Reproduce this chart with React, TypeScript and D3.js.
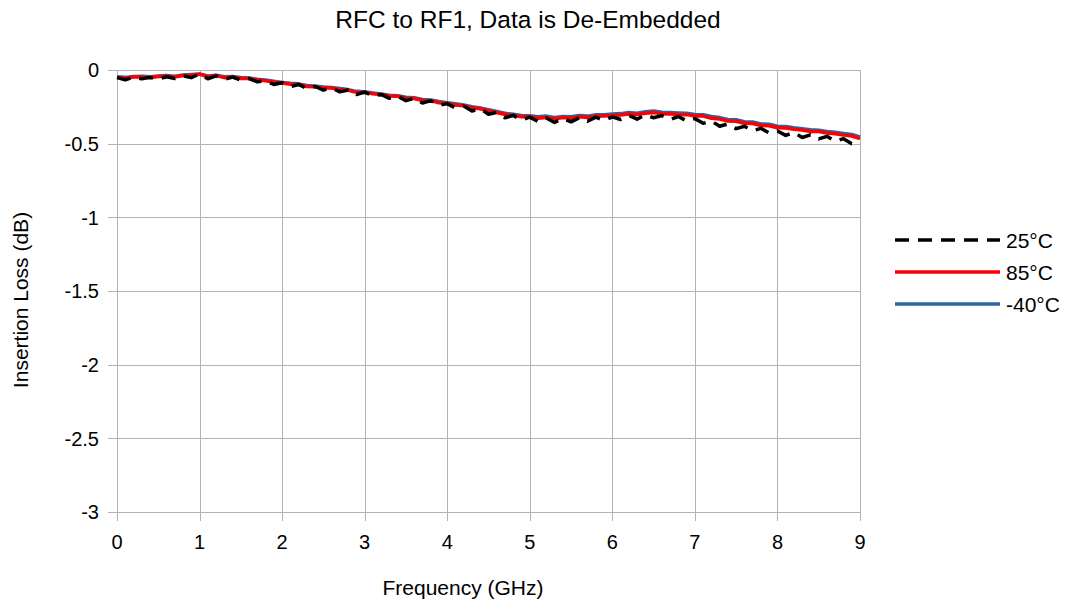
import React from "react";
import * as d3 from "d3";

const freqs: number[] = Array.from({ length: 91 }, (_, i) => +(i * 0.1).toFixed(1));

const loss85: number[] = [
  -0.050, -0.056, -0.048, -0.047, -0.052, -0.044, -0.042, -0.047, -0.038, -0.036,
  -0.028, -0.046, -0.038, -0.052, -0.048, -0.057, -0.058, -0.067, -0.073, -0.083,
  -0.088, -0.097, -0.098, -0.112, -0.113, -0.122, -0.123, -0.132, -0.138, -0.152,
  -0.153, -0.162, -0.168, -0.177, -0.178, -0.192, -0.193, -0.207, -0.208, -0.222,
  -0.228, -0.237, -0.243, -0.257, -0.263, -0.277, -0.288, -0.302, -0.308, -0.317,
  -0.318, -0.327, -0.322, -0.332, -0.323, -0.327, -0.318, -0.322, -0.313, -0.312,
  -0.308, -0.306, -0.298, -0.302, -0.293, -0.288, -0.297, -0.298, -0.302, -0.303,
  -0.312, -0.313, -0.327, -0.333, -0.347, -0.348, -0.362, -0.363, -0.377, -0.378,
  -0.392, -0.393, -0.402, -0.408, -0.417, -0.418, -0.427, -0.433, -0.442, -0.448, -0.466,
];

const lossM40: number[] = [
  -0.045, -0.050, -0.044, -0.043, -0.046, -0.040, -0.037, -0.042, -0.034, -0.031,
  -0.027, -0.040, -0.035, -0.046, -0.044, -0.051, -0.054, -0.062, -0.068, -0.077,
  -0.084, -0.090, -0.094, -0.105, -0.108, -0.116, -0.119, -0.126, -0.133, -0.145,
  -0.148, -0.156, -0.163, -0.171, -0.174, -0.185, -0.188, -0.200, -0.203, -0.214,
  -0.222, -0.229, -0.237, -0.249, -0.257, -0.269, -0.281, -0.294, -0.301, -0.308,
  -0.311, -0.318, -0.313, -0.322, -0.315, -0.318, -0.309, -0.313, -0.304, -0.303,
  -0.299, -0.296, -0.288, -0.293, -0.283, -0.278, -0.287, -0.289, -0.292, -0.294,
  -0.302, -0.304, -0.316, -0.323, -0.336, -0.338, -0.351, -0.353, -0.366, -0.368,
  -0.381, -0.383, -0.392, -0.398, -0.406, -0.409, -0.417, -0.423, -0.431, -0.438, -0.455,
];

const loss25: number[] = [
  -0.052, -0.066, -0.048, -0.060, -0.050, -0.062, -0.046, -0.058, -0.040, -0.052,
  -0.026, -0.060, -0.040, -0.064, -0.048, -0.070, -0.058, -0.080, -0.074, -0.098,
  -0.086, -0.112, -0.098, -0.126, -0.112, -0.136, -0.122, -0.148, -0.136, -0.166,
  -0.150, -0.176, -0.166, -0.192, -0.178, -0.208, -0.192, -0.224, -0.208, -0.240,
  -0.228, -0.258, -0.244, -0.278, -0.262, -0.300, -0.288, -0.324, -0.308, -0.340,
  -0.320, -0.350, -0.326, -0.356, -0.328, -0.352, -0.324, -0.348, -0.320, -0.342,
  -0.318, -0.336, -0.308, -0.334, -0.304, -0.324, -0.310, -0.336, -0.316, -0.346,
  -0.330, -0.362, -0.346, -0.382, -0.366, -0.398, -0.382, -0.412, -0.396, -0.428,
  -0.414, -0.444, -0.424, -0.458, -0.440, -0.468, -0.450, -0.484, -0.466, -0.500, -0.508,
];

const xTicks: number[] = [0, 1, 2, 3, 4, 5, 6, 7, 8, 9];
const yTicks: number[] = [0, -0.5, -1, -1.5, -2, -2.5, -3];
const yTickLabels: string[] = ["0", "-0.5", "-1", "-1.5", "-2", "-2.5", "-3"];

const seriesNames: string[] = ["25°C", "85°C", "-40°C"];
const seriesColors: string[] = ["#000000", "#ff0000", "#2e64a5"];
const seriesDash: string[] = ["14,9", "", ""];

const title = "RFC to RF1, Data is De-Embedded";
const xTitle = "Frequency (GHz)";
const yTitle = "Insertion Loss (dB)";

export default function App() {
  const W = 1070;
  const H = 604;
  const left = 117;
  const right = 860;
  const top = 70;
  const bottom = 512;
  const x = d3.scaleLinear().domain([0, 9]).range([left, right]);
  const y = d3.scaleLinear().domain([0, -3]).range([top, bottom]);
  const font = "'Liberation Sans', Arial, sans-serif";

  const series = [loss25, loss85, lossM40];
  const drawOrder = [2, 1, 0];
  const line = (vals: number[]) =>
    d3
      .line<number>()
      .x((_, i) => x(freqs[i]))
      .y((v) => y(v))(vals) || "";

  const grid = "#b3b3b3";

  return (
    <svg
      width={W}
      height={H}
      style={{ position: "absolute", left: 0, top: 0, background: "#fff" }}
      fontFamily={font}
    >
      <rect x={0} y={0} width={W} height={H} fill="#fff" />
      {yTicks.map((t) => (
        <line
          key={"gy" + t}
          x1={left - 9}
          x2={right}
          y1={Math.round(y(t)) + 0.5}
          y2={Math.round(y(t)) + 0.5}
          stroke={grid}
          strokeWidth={1}
        />
      ))}
      {xTicks.map((t) => (
        <line
          key={"gx" + t}
          x1={Math.round(x(t)) + 0.5}
          x2={Math.round(x(t)) + 0.5}
          y1={top}
          y2={bottom + 9}
          stroke={grid}
          strokeWidth={1}
        />
      ))}
      {yTicks.map((t, i) => (
        <text
          key={"ly" + t}
          x={99}
          y={y(t)}
          dy="0.36em"
          textAnchor="end"
          fontSize={20}
          fill="#000"
        >
          {yTickLabels[i]}
        </text>
      ))}
      {xTicks.map((t) => (
        <text
          key={"lx" + t}
          x={x(t)}
          y={549}
          textAnchor="middle"
          fontSize={20}
          fill="#000"
        >
          {t}
        </text>
      ))}
      {drawOrder.map((si) => (
        <path
          key={"s" + si}
          d={line(series[si])}
          fill="none"
          stroke={seriesColors[si]}
          strokeWidth={3.5}
          strokeDasharray={seriesDash[si] || undefined}
          strokeLinejoin="round"
        />
      ))}
      <text x={528} y={28} textAnchor="middle" fontSize={24.5} fill="#000">
        {title}
      </text>
      <text x={463} y={595} textAnchor="middle" fontSize={21} fill="#000">
        {xTitle}
      </text>
      <text
        transform={`translate(28,${300}) rotate(-90)`}
        textAnchor="middle"
        fontSize={21}
        fill="#000"
      >
        {yTitle}
      </text>
      {seriesNames.map((n, i) => {
        const ly = 240 + i * 32;
        return (
          <g key={"lg" + i}>
            <line
              x1={895}
              x2={1000}
              y1={ly}
              y2={ly}
              stroke={seriesColors[i]}
              strokeWidth={3.5}
              strokeDasharray={seriesDash[i] || undefined}
            />
            <text x={1006} y={ly} dy="0.36em" fontSize={21} fill="#000">
              {n}
            </text>
          </g>
        );
      })}
    </svg>
  );
}
